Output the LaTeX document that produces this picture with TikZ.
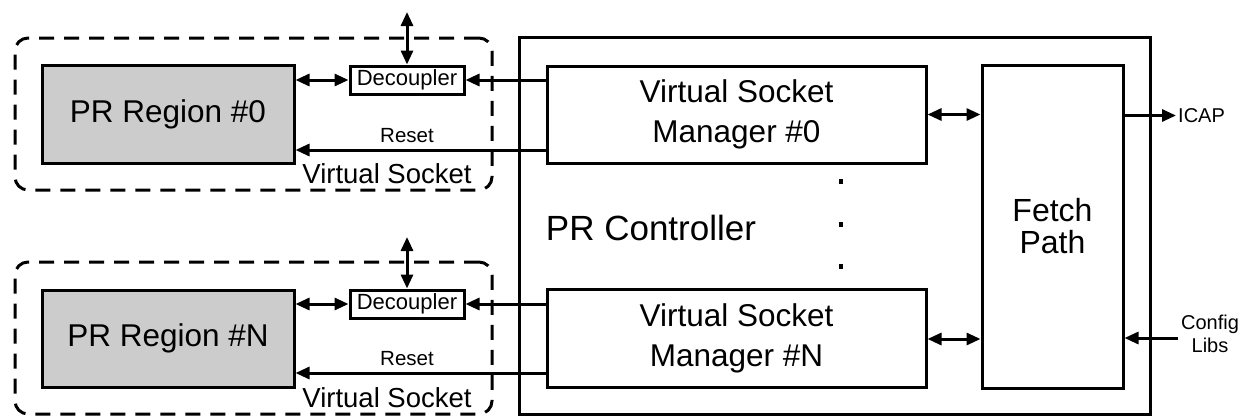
\documentclass[tikz,border=0pt]{standalone}
\usepackage{fontspec}
\setmainfont{Liberation Sans}
\usetikzlibrary{arrows.meta}
\tikzset{
  blk/.style={draw=black, line width=3pt, inner sep=0pt, align=center},
  grey/.style={blk, fill=black!20},
  vsock/.style={draw=black, line width=3pt, dash pattern=on 15pt off 10pt, rounded corners=13pt, inner sep=0pt},
  conn/.style={line width=3pt, -{Triangle[length=14pt,width=12pt]}},
  biconn/.style={line width=3pt, {Triangle[length=14pt,width=12pt]}-{Triangle[length=14pt,width=12pt]}},
  big/.style={font=\fontsize{31.5}{40}\selectfont},
  small/.style={font=\fontsize{20.5}{22}\selectfont, inner sep=0pt},
  io/.style={font=\fontsize{20}{23}\selectfont, inner sep=0pt, align=center},
  vslabel/.style={font=\fontsize{27.5}{30}\selectfont, inner sep=0pt, anchor=base},
}
\begin{document}
\begin{tikzpicture}[x=1pt, y=-1pt]
\useasboundingbox (0,0) rectangle (1242,415);
% PR controller outer box
\node[blk, minimum width=631pt, minimum height=377pt] (ctrl) at (834.5,225.5) {};
% dashed virtual sockets
\node[vsock, minimum width=477pt, minimum height=152pt] (vs0) at (253.5,114) {};
\node[vsock, minimum width=477pt, minimum height=152pt] (vsN) at (253.5,338) {};
% PR regions
\node[grey, big, minimum width=252pt, minimum height=98pt] (pr0) at (168,114) {PR Region \#0};
\node[grey, big, minimum width=252pt, minimum height=97pt] (prN) at (168,338.5) {PR Region \#N};
% decouplers
\node[blk, font=\fontsize{22}{24}\selectfont, minimum width=114pt, minimum height=28pt] (dec0) at (407,80) {Decoupler};
\node[blk, font=\fontsize{22}{24}\selectfont, minimum width=114pt, minimum height=28pt] (decN) at (407,304) {Decoupler};
% virtual socket managers
\node[blk, big, minimum width=379pt, minimum height=97pt] (vsm0) at (736.5,114.5) {Virtual Socket\\Manager \#0};
\node[blk, big, minimum width=379pt, minimum height=98pt] (vsmN) at (736.5,338) {Virtual Socket\\Manager \#N};
% fetch path
\node[blk, font=\fontsize{32}{32}\selectfont, minimum width=141pt, minimum height=323pt] (fetch) at (1052.5,226.5) {Fetch\\Path};
% labels
\node[font=\fontsize{35}{38}\selectfont, inner sep=0pt] (ctrllbl) at (651,228) {PR Controller};
\node[vslabel] (vs0lbl) at (387,183) {Virtual Socket};
\node[vslabel] (vsNlbl) at (387,407) {Virtual Socket};
\node[small, anchor=base] (rst0) at (407,142) {Reset};
\node[small, anchor=base] (rstN) at (407,365) {Reset};
\node[io, anchor=west] (icap) at (1178,115.5) {ICAP};
\node[io] (cfg) at (1210,334) {Config\\Libs};
% dots
\fill (839,179) rectangle (843,184);
\fill (839,222) rectangle (843,227);
\fill (839,264) rectangle (843,269);
% coordinates for free ends
\coordinate (top0) at (407,12);
\coordinate (topN) at (407,237);
\coordinate (icapend) at (1176,115.5);
\coordinate (cfgend) at (1178,338);
% connectors, socket 0
\draw[biconn] (top0) -- (dec0.north);
\draw[biconn] (pr0.east |- dec0.west) -- (dec0.west);
\draw[conn] (vsm0.west |- dec0.east) -- (dec0.east);
\draw[conn] (vsm0.west |- 0,150) -- (pr0.east |- 0,150);
% connectors, socket N
\draw[biconn] (topN) -- (decN.north);
\draw[biconn] (prN.east |- decN.west) -- (decN.west);
\draw[conn] (vsmN.west |- decN.east) -- (decN.east);
\draw[conn] (vsmN.west |- 0,373) -- (prN.east |- 0,373);
% managers to fetch path
\draw[biconn] (vsm0.east) -- (fetch.west |- vsm0.east);
\draw[biconn] (vsmN.east |- 0,339) -- (fetch.west |- 0,339);
% fetch path IO
\draw[conn] (fetch.east |- icapend) -- (icapend);
\draw[conn] (cfgend) -- (fetch.east |- cfgend);
\end{tikzpicture}
\end{document}
